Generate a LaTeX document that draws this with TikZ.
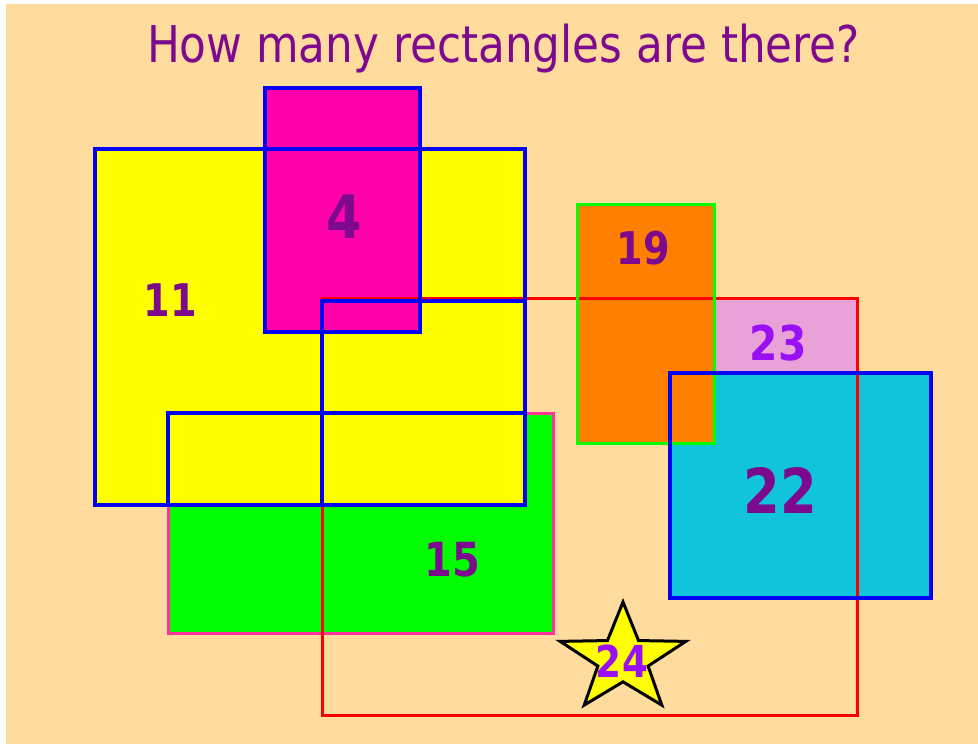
\documentclass[tikz,border=0pt]{standalone}
\usepackage{fontspec}
\setmainfont{DejaVu Sans}
\usepackage{graphicx}
\definecolor{bg}{HTML}{FFDB9E}
\definecolor{cYellow}{HTML}{FFFF00}
\definecolor{cMag}{HTML}{FF00AA}
\definecolor{cGreen}{HTML}{00FF00}
\definecolor{cPinkLine}{HTML}{FF3399}
\definecolor{cPink}{HTML}{E8A2D8}
\definecolor{cCyan}{HTML}{10C4DC}
\definecolor{cOrange}{HTML}{FF8000}
\definecolor{cBlue}{HTML}{0000F5}
\definecolor{cRed}{HTML}{FF0000}
\definecolor{cPurple}{HTML}{7D0A8E}
\definecolor{cViolet}{HTML}{9A10F5}
\newcommand\numlbl[2]{\scalebox{0.85}[1]{\fontsize{#1}{#1}\selectfont\bfseries #2}}
\begin{document}
\begin{tikzpicture}[x=1pt,y=-1pt,
  blueline/.style={draw=cBlue,line width=3.5pt},
  redline/.style={draw=cRed,line width=3pt},
  pinkline/.style={draw=cPinkLine,line width=3pt},
  greenline/.style={draw=cGreen,line width=3pt},
  starstyle/.style={fill=cYellow,draw=black,line width=3pt,line join=miter},
  lbl/.style={inner sep=0pt,text=cPurple},
  vlbl/.style={inner sep=0pt,text=cViolet}]
\useasboundingbox (0,0) rectangle (978,744);
\fill[white] (0,0) rectangle (978,744);
\fill[bg] (6,4) rectangle (978,744);
% fills
\fill[cGreen] (168,413) rectangle (553,633);
\fill[cYellow] (95,149) rectangle (525,505);
\fill[cMag] (265,88) rectangle (420,332);
\fill[cPink] (714,298) rectangle (857,373);
\fill[cCyan] (670,373) rectangle (931,598);
\fill[cOrange] (577,204) rectangle (714,443);
% outlines
\draw[pinkline] (168,413) rectangle (553,633);
\draw[redline] (322,298) rectangle (857,715);
\draw[greenline] (577,204) rectangle (714,443);
\draw[blueline] (95,149) rectangle (525,505);
\draw[blueline] (265,88) rectangle (420,332);
\draw[blueline] (322,301) rectangle (525,505);
\draw[blueline] (168,413) rectangle (525,505);
\draw[blueline] (670,373) rectangle (931,598);
% star
\draw[starstyle,shift={(623,659)}]
  (270:66 and 57) -- (306:26.4 and 22.8) -- (342:66 and 57) -- (18:26.4 and 22.8)
  -- (54:66 and 57) -- (90:26.4 and 22.8) -- (126:66 and 57) -- (162:26.4 and 22.8)
  -- (198:66 and 57) -- (234:26.4 and 22.8) -- cycle;
% title
\node[lbl,anchor=base] (title) at (503.5,62)
  {\resizebox{713pt}{\height}{\fontsize{50.7}{60}\selectfont How many rectangles are there?}};
% labels
\node[lbl] (n4) at (344,217) {\numlbl{60}{4}};
\node[lbl] (n11) at (170,300) {\numlbl{45}{11}};
\node[lbl] (n15) at (452,560) {\numlbl{47}{15}};
\node[lbl] (n19) at (643,248) {\numlbl{45}{19}};
\node[vlbl] (n23) at (778,343) {\numlbl{48}{23}};
\node[lbl] (n22) at (780,490) {\numlbl{62}{22}};
\node[vlbl] (n24) at (622,661) {\numlbl{44}{24}};
\end{tikzpicture}
\end{document}
